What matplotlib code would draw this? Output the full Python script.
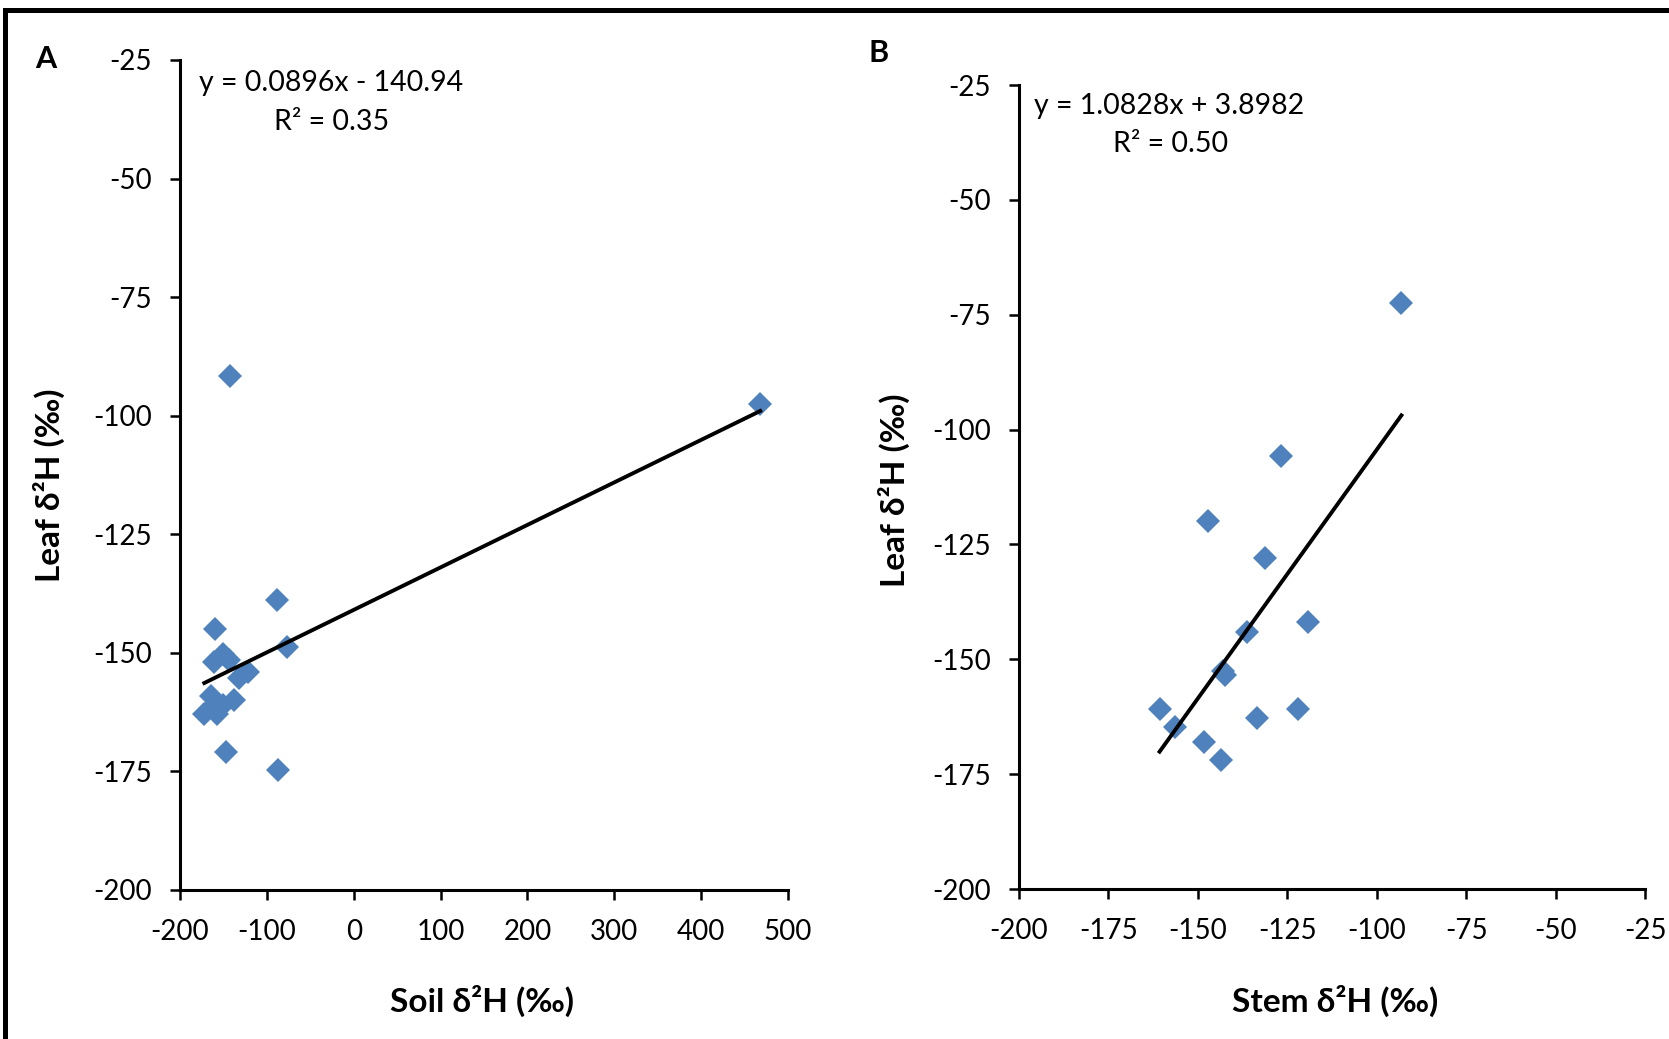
import matplotlib
matplotlib.use("Agg")
import matplotlib.pyplot as plt
from matplotlib.lines import Line2D

plt.rcParams['font.family'] = ['Lato', 'Open Sans', 'DejaVu Sans']
plt.rcParams['axes.unicode_minus'] = False

# panel A: soil vs leaf water
soil_x = [-142, 468, -88, -77, -159.5, -151, -160.7, -143.5, -122, -132,
          -164.5, -137.6, -151, -157, -172, -162.7, -147, -87.6]
soil_leaf_y = [-91.7, -97.6, -138.9, -148.8, -145, -150.2, -151.9, -151.5, -154, -155.4,
               -159.2, -160, -161, -162.8, -162.8, -161.4, -170.9, -174.7]
fit_a = (0.0896, -140.94)
r2_a = 0.35

# panel B: stem vs leaf water
stem_x = [-93.1, -126.7, -147.1, -131.1, -119.2, -136.4, -142.5, -143, -160.7,
          -122, -133.4, -156.3, -148.4, -143.4]
stem_leaf_y = [-72.5, -105.7, -119.9, -128, -141.9, -144, -153.5, -152.5, -160.9,
               -160.9, -162.8, -164.8, -167.9, -171.9]
fit_b = (1.0828, 3.8982)
r2_b = 0.50

ticks_a_x = list(range(-200, 501, 100))
ticks_b_x = list(range(-200, -24, 25))
ticks_y = list(range(-200, -24, 25))

W, H = 1669, 1039
fig = plt.figure(figsize=(W / 100, H / 100), dpi=100)

BLUE = '#4F81BD'


def px(x, y):
    return x / W, 1 - y / H


def style_axes(ax, xlim, xticks):
    ax.set_xlim(*xlim)
    ax.set_ylim(-200, -25)
    ax.set_xticks(xticks)
    ax.set_yticks(ticks_y)
    for s in ('top', 'right'):
        ax.spines[s].set_visible(False)
    for s in ('left', 'bottom'):
        ax.spines[s].set_linewidth(2.2)
    ax.tick_params(direction='out', length=7, width=1.8, labelsize=20)
    ax.tick_params(axis='y', pad=13)
    ax.tick_params(axis='x', pad=14)


def panel(rect, x, y, fit, xlim, xticks):
    ax = fig.add_axes(rect)
    ax.plot(x, y, linestyle='none', marker='D', markersize=12,
            color=BLUE, markeredgewidth=0, zorder=3)
    lo, hi = min(x), max(x)
    ax.plot([lo, hi], [fit[0] * lo + fit[1], fit[0] * hi + fit[1]],
            color='black', lw=2.8, zorder=4)
    style_axes(ax, xlim, xticks)
    ax.patch.set_alpha(0)
    return ax


# axes rectangles from pixel extents
l, b = px(180, 890)
r, t = px(788, 60)
panel([l, b, r - l, t - b], soil_x, soil_leaf_y, fit_a, (-200, 500), ticks_a_x)

l, b = px(1019, 889)
r, t = px(1645, 85)
panel([l, b, r - l, t - b], stem_x, stem_leaf_y, fit_b, (-200, -25), ticks_b_x)

# axis titles
lab_kw = dict(fontsize=24, fontweight='bold', ha='center', va='center')
fig.text(*px(49, 485), 'Leaf δ²H (‰)', rotation=90, **lab_kw)
fig.text(*px(894, 490), 'Leaf δ²H (‰)', rotation=90, **lab_kw)
fig.text(*px(482, 1001), 'Soil δ²H (‰)', **lab_kw)
fig.text(*px(1335, 1001), 'Stem δ²H (‰)', **lab_kw)

# panel letters
fig.text(*px(46, 59), 'A', fontsize=22, fontweight='bold', ha='center', va='center')
fig.text(*px(879, 53), 'B', fontsize=22, fontweight='bold', ha='center', va='center')

# regression equations
eq_kw = dict(fontsize=20.5, ha='center', va='center')
fig.text(*px(331, 83), f'y = {fit_a[0]:.4f}x - {abs(fit_a[1]):.2f}', **eq_kw)
fig.text(*px(332, 122), f'R² = {r2_a:.2f}', **eq_kw)
fig.text(*px(1169, 106), f'y = {fit_b[0]:.4f}x + {fit_b[1]:.4f}', **eq_kw)
fig.text(*px(1171, 144), f'R² = {r2_b:.2f}', **eq_kw)

# outer frame (left and top edges)
fig.add_artist(Line2D([5 / W, 5 / W], [0, 1 - 10 / H], color='black', lw=3.6,
                      transform=fig.transFigure, solid_capstyle='projecting'))
fig.add_artist(Line2D([5 / W, 1], [1 - 10 / H, 1 - 10 / H], color='black', lw=3.6,
                      transform=fig.transFigure, solid_capstyle='projecting'))

fig.savefig('out.png', dpi=100)
